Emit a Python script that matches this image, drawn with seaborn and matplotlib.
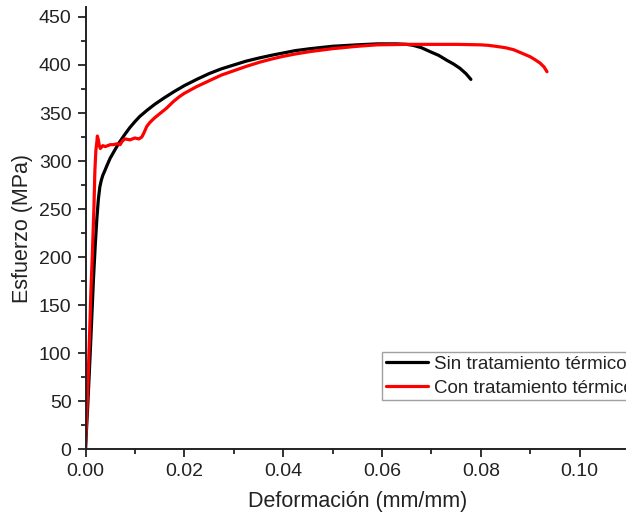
import matplotlib
matplotlib.use("Agg")
import matplotlib.pyplot as plt
import seaborn as sns
import numpy as np
import pandas as pd
from matplotlib.ticker import MultipleLocator

# ---- data ----
sin_label = "Sin tratamiento térmico"
con_label = "Con tratamiento térmico"

sin_strain = [0.0, 0.0005, 0.0010, 0.0016, 0.0020, 0.0023, 0.0026, 0.0029, 0.0032,
              0.0035, 0.0040, 0.0044, 0.0050, 0.0060, 0.0068, 0.0076, 0.0080, 0.0090,
              0.0100, 0.0110, 0.0125, 0.0140, 0.0160, 0.0180, 0.0200, 0.0225, 0.0250,
              0.0275, 0.0300, 0.0325, 0.0353, 0.0380, 0.0400, 0.0425, 0.0455, 0.0500,
              0.0550, 0.0590, 0.0630, 0.0650, 0.0663, 0.0680, 0.0697, 0.0715, 0.0731,
              0.0745, 0.0758, 0.0770, 0.0780]
sin_stress = [0, 50, 105, 176, 215, 240, 260, 273, 280,
              285, 291, 296, 303, 312, 319, 325, 328, 335,
              341, 346.5, 353, 359, 366, 372.5, 378.5, 385, 391,
              396, 400, 404, 407.5, 410.5, 412.5, 415, 417, 419.5,
              421, 422, 422, 421.5, 420.5, 418, 414, 410, 405,
              401, 396.5, 391, 385]

con_strain = [0.0, 0.0004, 0.0008, 0.0011, 0.0014, 0.0017, 0.0019, 0.0021, 0.0023,
              0.0024, 0.0026, 0.0028, 0.0030, 0.0035, 0.0040, 0.0050, 0.0056, 0.0065,
              0.0070, 0.0075, 0.0080, 0.0090, 0.0100, 0.0108, 0.0114, 0.0118, 0.0124,
              0.0130, 0.0140, 0.0152, 0.0164, 0.0178, 0.0190, 0.0200, 0.0225, 0.0252,
              0.0275, 0.0300, 0.0325, 0.0353, 0.0375, 0.0400, 0.0425, 0.0455, 0.0500,
              0.0550, 0.0590, 0.0650, 0.0700, 0.0750, 0.0800, 0.0815, 0.0830, 0.0850,
              0.0866, 0.0880, 0.0900, 0.0910, 0.0920, 0.0928, 0.0934]
con_stress = [0, 55, 115, 165, 205, 250, 290, 311, 320,
              326, 322, 316, 313, 316, 315, 317, 317, 318,
              317, 321, 323, 322, 324, 323, 325, 329, 336,
              340, 345, 350, 355, 362, 367, 370.5, 377.5, 384,
              389.5, 394, 398.5, 403, 406, 409, 411.5, 414, 417,
              419.5, 421, 421.5, 421.5, 421.5, 421, 420.5, 419.5, 418,
              416, 413, 408.6, 405.5, 402, 398, 393]

x_ticks = [0.00, 0.02, 0.04, 0.06, 0.08, 0.10]
y_ticks = [0, 50, 100, 150, 200, 250, 300, 350, 400, 450]
x_label = "Deformación (mm/mm)"
y_label = "Esfuerzo (MPa)"

# ---- styling ----
sns.set_style("ticks")
plt.rcParams['font.family'] = ['Liberation Sans', 'DejaVu Sans']

W, H = 626, 519
fig = plt.figure(figsize=(W / 100, H / 100), dpi=100)
ax = fig.add_axes([85.5 / W, (H - 449) / H, (629 - 85.5) / W, (449 - 7.4) / H])

sns.lineplot(x=sin_strain, y=sin_stress, ax=ax, color="black", lw=2.3,
             sort=False, estimator=None, label=sin_label)
sns.lineplot(x=con_strain, y=con_stress, ax=ax, color="#ff0000", lw=2.3,
             sort=False, estimator=None, label=con_label)

ax.set_xlim(0, 0.11)
ax.set_ylim(0, 460)
ax.set_xticks(x_ticks)
ax.set_xticklabels([f"{v:.2f}" for v in x_ticks])
ax.set_yticks(y_ticks)
ax.xaxis.set_minor_locator(MultipleLocator(0.01))
ax.yaxis.set_minor_locator(MultipleLocator(25))

for s in ["top", "right"]:
    ax.spines[s].set_visible(False)
for s in ["left", "bottom"]:
    ax.spines[s].set_linewidth(1.4)
    ax.spines[s].set_color("#222222")

ax.tick_params(which="major", direction="out", length=6, width=1.3,
               color="#222222", labelsize=14, labelcolor="#222222", pad=4)
ax.tick_params(which="minor", direction="out", length=3.5, width=1.3, color="#222222")

ax.set_xlabel(x_label, fontsize=15.5, color="#222222", labelpad=8)
ax.set_ylabel(y_label, fontsize=15.5, color="#222222", labelpad=4)

leg = ax.legend(loc="upper left", bbox_to_anchor=(0.5456, 0.2195),
                borderaxespad=0, frameon=True, fancybox=False, framealpha=1,
                edgecolor="#a0a0a0", fontsize=13.5, handlelength=2.25,
                handletextpad=0.3, borderpad=0.2, labelspacing=0.35)
leg.get_frame().set_linewidth(1.0)
for t in leg.get_texts():
    t.set_color("#222222")

fig.savefig("out.png", dpi=100)
